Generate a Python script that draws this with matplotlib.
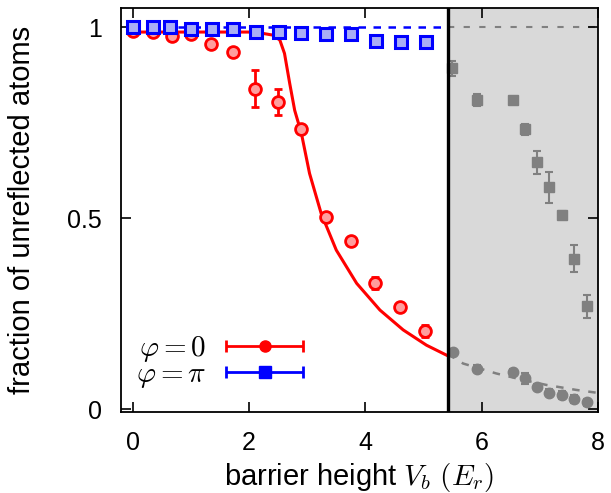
import numpy as np
import matplotlib
matplotlib.use('Agg')
import matplotlib.pyplot as plt
from matplotlib.container import ErrorbarContainer
from matplotlib.legend_handler import HandlerErrorbar

plt.rcParams['font.family'] = ['Liberation Sans', 'DejaVu Sans']
plt.rcParams['mathtext.fontset'] = 'cm'
plt.rcParams['font.size'] = 18

# phi = 0 data (red circles)
v_red = [0.0, 0.35, 0.67, 1.0, 1.35, 1.72, 2.1, 2.5, 2.9, 3.32, 3.75, 4.17, 4.6, 5.03]
f_red = [0.99, 0.987, 0.978, 0.982, 0.958, 0.935, 0.84, 0.805, 0.734, 0.504, 0.441, 0.33, 0.267, 0.205]
e_red = [0.005, 0.005, 0.005, 0.005, 0.005, 0.005, 0.048, 0.033, 0.005, 0.005, 0.005, 0.016, 0.005, 0.016]

# phi = pi data (blue squares)
v_blue = [0.0, 0.35, 0.65, 1.0, 1.36, 1.73, 2.12, 2.52, 2.9, 3.33, 3.75, 4.18, 4.61, 5.04]
f_blue = [1.0, 1.0, 1.0, 0.997, 0.997, 0.997, 0.989, 0.989, 0.986, 0.984, 0.984, 0.965, 0.962, 0.961]

# fit curve for phi = 0
v_fit = [0.0, 1.0, 2.0, 2.18, 2.41, 2.53, 2.61, 2.70, 2.785, 2.90, 3.04, 3.24, 3.50, 3.85, 4.25, 4.65, 5.05, 5.42]
f_fit = [0.988, 0.988, 0.988, 0.986, 0.98, 0.967, 0.932, 0.853, 0.783, 0.723, 0.618, 0.513, 0.417, 0.33, 0.26, 0.208, 0.168, 0.14]

# continuation of the fit beyond the cutoff (grey dashed)
v_fit2 = [5.42, 5.68, 6.25, 6.71, 7.11, 7.62, 8.0]
f_fit2 = [0.145, 0.12, 0.094, 0.077, 0.064, 0.051, 0.043]

# shaded region data (grey)
v_grey_sq = [5.49, 5.92, 6.54, 6.74, 6.95, 7.15, 7.38, 7.58, 7.8]
f_grey_sq = [0.893, 0.81, 0.81, 0.733, 0.647, 0.581, 0.51, 0.395, 0.27]
e_grey_sq = [0.02, 0.015, 0.005, 0.015, 0.03, 0.04, 0.01, 0.035, 0.03]
v_grey_ci = [5.5, 5.92, 6.53, 6.74, 6.95, 7.15, 7.38, 7.58, 7.8]
f_grey_ci = [0.15, 0.107, 0.098, 0.081, 0.059, 0.044, 0.037, 0.027, 0.018]
e_grey_ci = [0.008, 0.008, 0.008, 0.015, 0.008, 0.01, 0.01, 0.01, 0.01]

v_cut = 5.42

fig = plt.figure(figsize=(6.11, 4.93), dpi=100)
ax = fig.add_axes([0.198, 0.165, 0.781, 0.818])

grey = '#808080'
ax.axvspan(v_cut, 8.0, color='#d9d9d9', zorder=0, lw=0)
ax.plot([v_cut, 8.0], [1.0, 1.0], color=grey, lw=1.5, dashes=(3, 4.5), zorder=1)
ax.plot(v_fit2, f_fit2, color=grey, lw=1.8, dashes=(3, 3.5), zorder=1)
ax.errorbar(v_grey_sq, f_grey_sq, yerr=e_grey_sq, fmt='s', color=grey, ms=7.5,
            capsize=3, elinewidth=1.5, capthick=1.5, zorder=2)
ax.errorbar(v_grey_ci, f_grey_ci, yerr=e_grey_ci, fmt='o', color=grey, ms=7.5,
            capsize=3, elinewidth=1.5, capthick=1.5, zorder=2)

ax.plot([0.0, v_cut], [1.0, 1.0], color='blue', lw=1.8, dashes=(3, 3), zorder=3)
ax.plot(v_fit, f_fit, color='red', lw=2.2, zorder=3)

ax.errorbar(v_red, f_red, yerr=e_red, fmt='o', color='red', mfc='#ff9e9e', mec='red',
            ms=8.5, mew=2, capsize=3.2, elinewidth=2, capthick=2, zorder=4)
ax.plot(v_blue, f_blue, 's', color='blue', mfc='#a9aef5', mec='blue', ms=9, mew=2.2, zorder=5)

ax.axvline(v_cut, color='black', lw=2.4, zorder=6)

ax.set_xlim(-0.2, 8.0)
ax.set_ylim(-0.006, 1.05)
ax.set_xticks([0, 2, 4, 6, 8])
ax.set_yticks([0, 0.5, 1])
ax.set_yticklabels(['0', '0.5', '1'])
ax.tick_params(direction='in', top=True, right=True, length=7, width=1.2, pad=14)
ax.tick_params(axis='y', pad=14)
for s in ax.spines.values():
    s.set_linewidth(1.3)

ax.set_xlabel(r'barrier height $V_b\ (E_r)$', fontsize=21, labelpad=4)
ax.set_ylabel('fraction of unreflected atoms', fontsize=21, labelpad=22)

# legend proxies (drawn off-screen so the caps exist)
h0 = ax.errorbar([-10], [-10], xerr=[1], fmt='o', color='red', ms=8, capsize=4,
                 elinewidth=2, capthick=2)
h1 = ax.errorbar([-10], [-10], xerr=[1], fmt='s', color='blue', ms=8, capsize=4,
                 elinewidth=2, capthick=2)
ax.legend([h0, h1], [r'$\varphi = 0$', r'$\varphi = \pi$'], loc='lower left',
          bbox_to_anchor=(0.006, 0.025), frameon=False, markerfirst=False, fontsize=21,
          handlelength=2.64, handletextpad=0.7, labelspacing=-0.15, borderaxespad=0,
          handler_map={ErrorbarContainer: HandlerErrorbar(xerr_size=1.32)})

fig.savefig('out.png', dpi=100)
